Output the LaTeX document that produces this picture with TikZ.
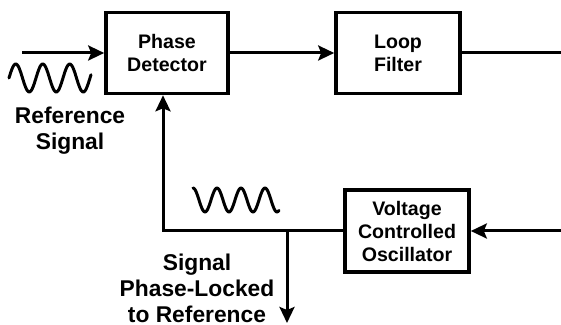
\documentclass[tikz,border=0pt]{standalone}
\usepackage{fontspec}
\setmainfont{Liberation Sans}
\usepackage{tikz}
\usetikzlibrary{arrows.meta,positioning}
\tikzset{
  blockbox/.style={draw=black,line width=1.8pt,fill=white,align=center,
                   inner sep=2pt,font=\fontsize{9.8}{11.5}\selectfont\bfseries},
  wire/.style={line width=1.5pt,draw=black},
  arr/.style={-{Stealth[length=8pt,width=7.5pt,inset=1.5pt]},line width=1.5pt,
              draw=black},
  wave/.style={line width=1.5pt,draw=black,line cap=round,line join=round},
  lbl/.style={align=center,inner sep=0pt,
              font=\fontsize{11.4}{13}\selectfont\bfseries}
}
\begin{document}
\begin{tikzpicture}[x=0.5pt,y=-0.5pt]
    \useasboundingbox (0,0) rectangle (561,325);
    \node[blockbox,minimum width=61pt,minimum height=40.5pt] (pd) at (167,53)
      {Phase\\Detector};
    \node[blockbox,minimum width=62pt,minimum height=40.5pt] (lf) at (398,53)
      {Loop\\Filter};
    \node[blockbox,minimum width=62pt,minimum height=41pt] (vco) at (407,231)
      {Voltage\\Controlled\\Oscillator};

    \coordinate (in) at (22,53);
    \coordinate (out) at (561,53);
    \coordinate (vin) at (561,231);
    \coordinate (fb) at (163,231);
    \coordinate (tap) at (287,231);
    \coordinate (tapend) at (287,323);

    \draw[arr] (in) -- (pd);
    \draw[arr] (pd) -- (lf);
    \draw[wire] (lf) -- (out);
    \draw[arr] (vin) -- (vco);
    \draw[arr] (vco.west) -- (fb) -- (fb |- pd.south);
    \draw[arr] (tap) -- (tapend);

    % sine waves
    \draw[wave] plot[domain=9:91,samples=90]
      (\x,{78-14*sin((\x-9)/27*360)});
    \draw[wave] plot[domain=193:279,samples=90]
      (\x,{200-12*cos((\x-193)/24*360)});

    \node[lbl] (refsig) at (70,131) {Reference\\Signal};
    \node[lbl] (locked) at (197,288) {Signal\\Phase-Locked\\to Reference};
  \end{tikzpicture}
\end{document}
